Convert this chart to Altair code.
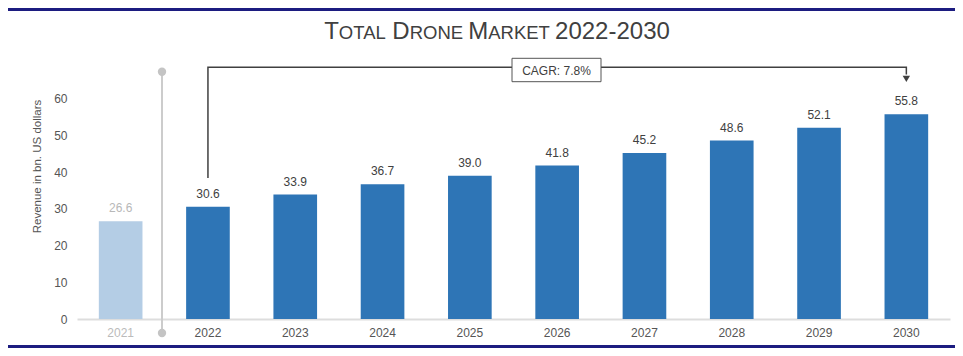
import altair as alt
import pandas as pd

years = ["2021", "2022", "2023", "2024", "2025", "2026", "2027", "2028", "2029", "2030"]
revenue = [26.6, 30.6, 33.9, 36.7, 39.0, 41.8, 45.2, 48.6, 52.1, 55.8]
bar_colors = ["#b4cde5"] + ["#2e75b6"] * 9
label_colors = ["#b8b8b8"] + ["#404040"] * 9
y_ticks = [0, 10, 20, 30, 40, 50, 60]
title_segments = [("T", True), ("OTAL ", False), ("D", True), ("RONE ", False),
                  ("M", True), ("ARKET ", False), ("2022-2030", True)]
cagr_text = "CAGR: 7.8%"
y_title = "Revenue in bn. US dollars"

FONT = "Liberation Sans"
W, H = 873, 257

df = pd.DataFrame({"year": years, "value": revenue, "color": bar_colors,
                   "lcolor": label_colors, "label": [f"{v:.1f}" for v in revenue]})

xscale = alt.Scale(domain=years, paddingInner=0.5, paddingOuter=0.25)
yscale = alt.Scale(domain=[0, 70], nice=False)

x_axis = alt.Axis(title=None, ticks=False, labelAngle=0, labelFontSize=12, labelFont=FONT,
                  labelPadding=8, domainColor="#dddddd", domainWidth=2,
                  labelColor={"condition": {"test": "datum.value == '2021'", "value": "#bbbbbb"},
                              "value": "#555555"})
y_axis = alt.Axis(values=y_ticks, domain=False, ticks=False, grid=False, labelFontSize=12,
                  labelFont=FONT, labelColor="#555555", labelPadding=10,
                  title=y_title, titleFont=FONT, titleFontSize=11.5, titleFontWeight="normal",
                  titleColor="#555555", titleX=-40, titleY=104, titleAngle=-90,
                  titleAlign="center", titleBaseline="middle")

base = alt.Chart(df)
bars = base.mark_bar().encode(
    x=alt.X("year:N", scale=xscale, axis=x_axis, sort=years),
    y=alt.Y("value:Q", scale=yscale, axis=y_axis),
    color=alt.Color("color:N", scale=None),
)
labels = base.mark_text(baseline="bottom", dy=-6, fontSize=12, font=FONT).encode(
    x=alt.X("year:N", sort=years),
    y="value:Q",
    text="label:N",
    color=alt.Color("lcolor:N", scale=None),
)

one = pd.DataFrame({"a": [0]})

# separator
sep = alt.Chart(one).mark_rule(color="#cccccc", strokeWidth=2).encode(
    x=alt.value(85), y=alt.value(9.7), y2=alt.value(271))
dot_top = alt.Chart(one).mark_circle(color="#c4c4c4", size=70, opacity=1).encode(
    x=alt.value(85), y=alt.value(9.7))
dot_bot = alt.Chart(one).mark_circle(color="#c4c4c4", size=70, opacity=1).encode(
    x=alt.value(85), y=alt.value(271))

# CAGR bracket
bracket_df = pd.DataFrame({"year": ["2022", "2022", "2030", "2030"],
                           "value": [38.4, 68.6, 68.6, 66.6], "o": [0, 1, 2, 3]})
bracket = alt.Chart(bracket_df).mark_line(color="#404040", strokeWidth=1.5).encode(
    x=alt.X("year:N", sort=years), y="value:Q", order="o:Q")
arrow_df = pd.DataFrame({"year": ["2030"], "value": [65.4]})
arrow = alt.Chart(arrow_df).mark_point(shape="triangle-down", filled=True, size=55,
                                       color="#404040", opacity=1).encode(
    x=alt.X("year:N", sort=years), y="value:Q")
box = alt.Chart(one).mark_rect(fill="white", stroke="#555555", strokeWidth=1).encode(
    x=alt.value(435), x2=alt.value(524), y=alt.value(-3.7), y2=alt.value(19.7))
box_text = alt.Chart(one).mark_text(text=cagr_text, fontSize=12, font=FONT, color="#404040",
                                    baseline="middle", align="center").encode(
    x=alt.value(479.5), y=alt.value(8.5))

# title in small caps built from segments
WIDTHS = {"T": .611, "O": .778, "A": .667, "L": .556, "D": .722, "R": .722, "N": .722,
          "E": .667, "M": .833, "K": .667, " ": .278, "-": .333}
for d in "0123456789":
    WIDTHS[d] = .556
BIG, SMALL = 24, 18.5
total = sum(sum(WIDTHS[c] for c in s) * (BIG if b else SMALL) for s, b in title_segments)
cx = 497 - 77
xpos = cx - total / 2
title_layers = []
for s, b in title_segments:
    fs = BIG if b else SMALL
    title_layers.append(
        alt.Chart(one).mark_text(text=s, fontSize=fs, font=FONT, color="#404040",
                                 align="left", baseline="alphabetic").encode(
            x=alt.value(xpos), y=alt.value(-22.7)))
    xpos += sum(WIDTHS[c] for c in s) * fs

# navy borders
top_border = alt.Chart(one).mark_rule(color="#1c1c80", strokeWidth=3).encode(
    x=alt.value(-69), x2=alt.value(878), y=alt.value(-52.5))
bot_border = alt.Chart(one).mark_rule(color="#1c1c80", strokeWidth=3).encode(
    x=alt.value(-69), x2=alt.value(878), y=alt.value(284.5))

chart = alt.layer(bars, labels, sep, dot_top, dot_bot, bracket, arrow, box, box_text,
                  *title_layers, top_border, bot_border).properties(
    width=W, height=H,
    autosize=alt.AutoSizeParams(type="none"),
    padding={"left": 69, "top": 54, "right": 5, "bottom": 29},
    background="white",
).configure_view(stroke=None)

chart.save("out.html", embed_options={"renderer": "svg", "actions": False})
